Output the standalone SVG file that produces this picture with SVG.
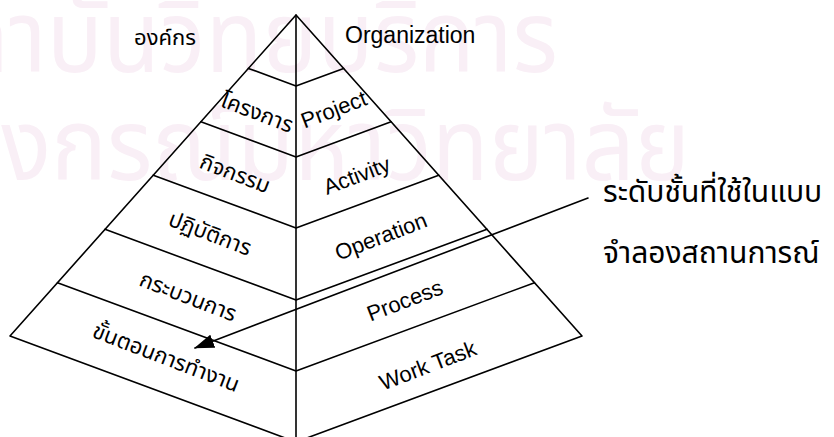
<svg xmlns="http://www.w3.org/2000/svg" width="834" height="437" viewBox="0 0 834 437">
  <defs>
    <style>
      .bg { fill: #ffffff; }
      .wm { fill: #f9eff6; font-family: "Noto Sans Thai", "Noto Sans", sans-serif; font-size: 100px; }
      .edge { stroke: #000; stroke-width: 1.6; fill: none; stroke-linecap: round; stroke-linejoin: round; }
      .th { font-family: "Noto Sans Thai", "Noto Sans", sans-serif; font-size: 22px; fill: #000; }
      .en { font-family: "Liberation Sans", Arial, sans-serif; font-size: 22px; fill: #000; }
      .note { font-family: "Noto Sans Thai", "Noto Sans", sans-serif; font-size: 30px; fill: #000; }
    </style>
    <marker id="arrowhead" viewBox="0 0 20 14" refX="19" refY="7" markerWidth="20" markerHeight="14" markerUnits="userSpaceOnUse" orient="auto">
      <path d="M0,0 L20,7 L0,14 z" fill="#000"/>
    </marker>
  </defs>

  <rect class="bg" x="0" y="0" width="834" height="437"/>

  <!-- background watermark -->
  <g id="watermark">
    <text class="wm" transform="translate(558,72) scale(0.93,1)" text-anchor="end">สถาบันวิทยบริการ</text>
    <text class="wm" transform="translate(690,180) scale(0.93,1)" text-anchor="end">จุฬาลงกรณ์มหาวิทยาลัย</text>
  </g>

  <!-- pyramid outline and level bands -->
  <g id="pyramid">
    <path class="edge" d="M296,15 L10,336 L296,442 L582,336 Z"/>
    <line class="edge" x1="296" y1="15" x2="296" y2="440"/>
    <polyline class="edge" points="248.4,68.4 296,86 343.6,68.4"/>
    <polyline class="edge" points="200.9,121.8 296,157 391.1,121.8"/>
    <polyline class="edge" points="153.3,175.2 296,228 438.7,175.2"/>
    <polyline class="edge" points="105,229.3 296,300 487,229.3"/>
    <polyline class="edge" points="57.5,282.7 296,371 534.5,282.7"/>
  </g>

  <!-- Thai level names, left half -->
  <g id="levels-th">
    <text class="th" text-anchor="middle" transform="translate(257,113) rotate(21)" y="7">โครงการ</text>
    <text class="th" text-anchor="middle" transform="translate(235,174) rotate(21)" y="7">กิจกรรม</text>
    <text class="th" text-anchor="middle" transform="translate(210,234) rotate(21)" y="7">ปฏิบัติการ</text>
    <text class="th" text-anchor="middle" transform="translate(188,297) rotate(21)" y="7">กระบวนการ</text>
    <text class="th" text-anchor="middle" transform="translate(166,358) rotate(21)" y="7">ขั้นตอนการทำงาน</text>
  </g>

  <!-- English level names, right half -->
  <g id="levels-en">
    <text class="en" text-anchor="middle" transform="translate(334,110) rotate(-21)" y="7">Project</text>
    <text class="en" text-anchor="middle" transform="translate(357,176) rotate(-21)" y="7">Activity</text>
    <text class="en" text-anchor="middle" transform="translate(381,237) rotate(-21)" y="7">Operation</text>
    <text class="en" text-anchor="middle" transform="translate(405,301) rotate(-21)" y="7">Process</text>
    <text class="en" text-anchor="middle" transform="translate(428,366) rotate(-21)" y="7">Work Task</text>
  </g>

  <!-- headings -->
  <g id="headings">
    <text class="th" x="165" y="45" text-anchor="middle">องค์กร</text>
    <text class="en" x="345" y="43" style="font-size:23px">Organization</text>
  </g>

  <!-- callout label -->
  <g id="callout">
    <text class="note" x="603" y="202">ระดับชั้นที่ใช้ในแบบ</text>
    <text class="note" x="603" y="263">จำลองสถานการณ์</text>
  </g>

  <!-- connector from the callout to the work-task level -->
  <g id="connectors">
    <line class="edge" x1="588" y1="198" x2="195" y2="348" marker-end="url(#arrowhead)"/>
  </g>
</svg>
